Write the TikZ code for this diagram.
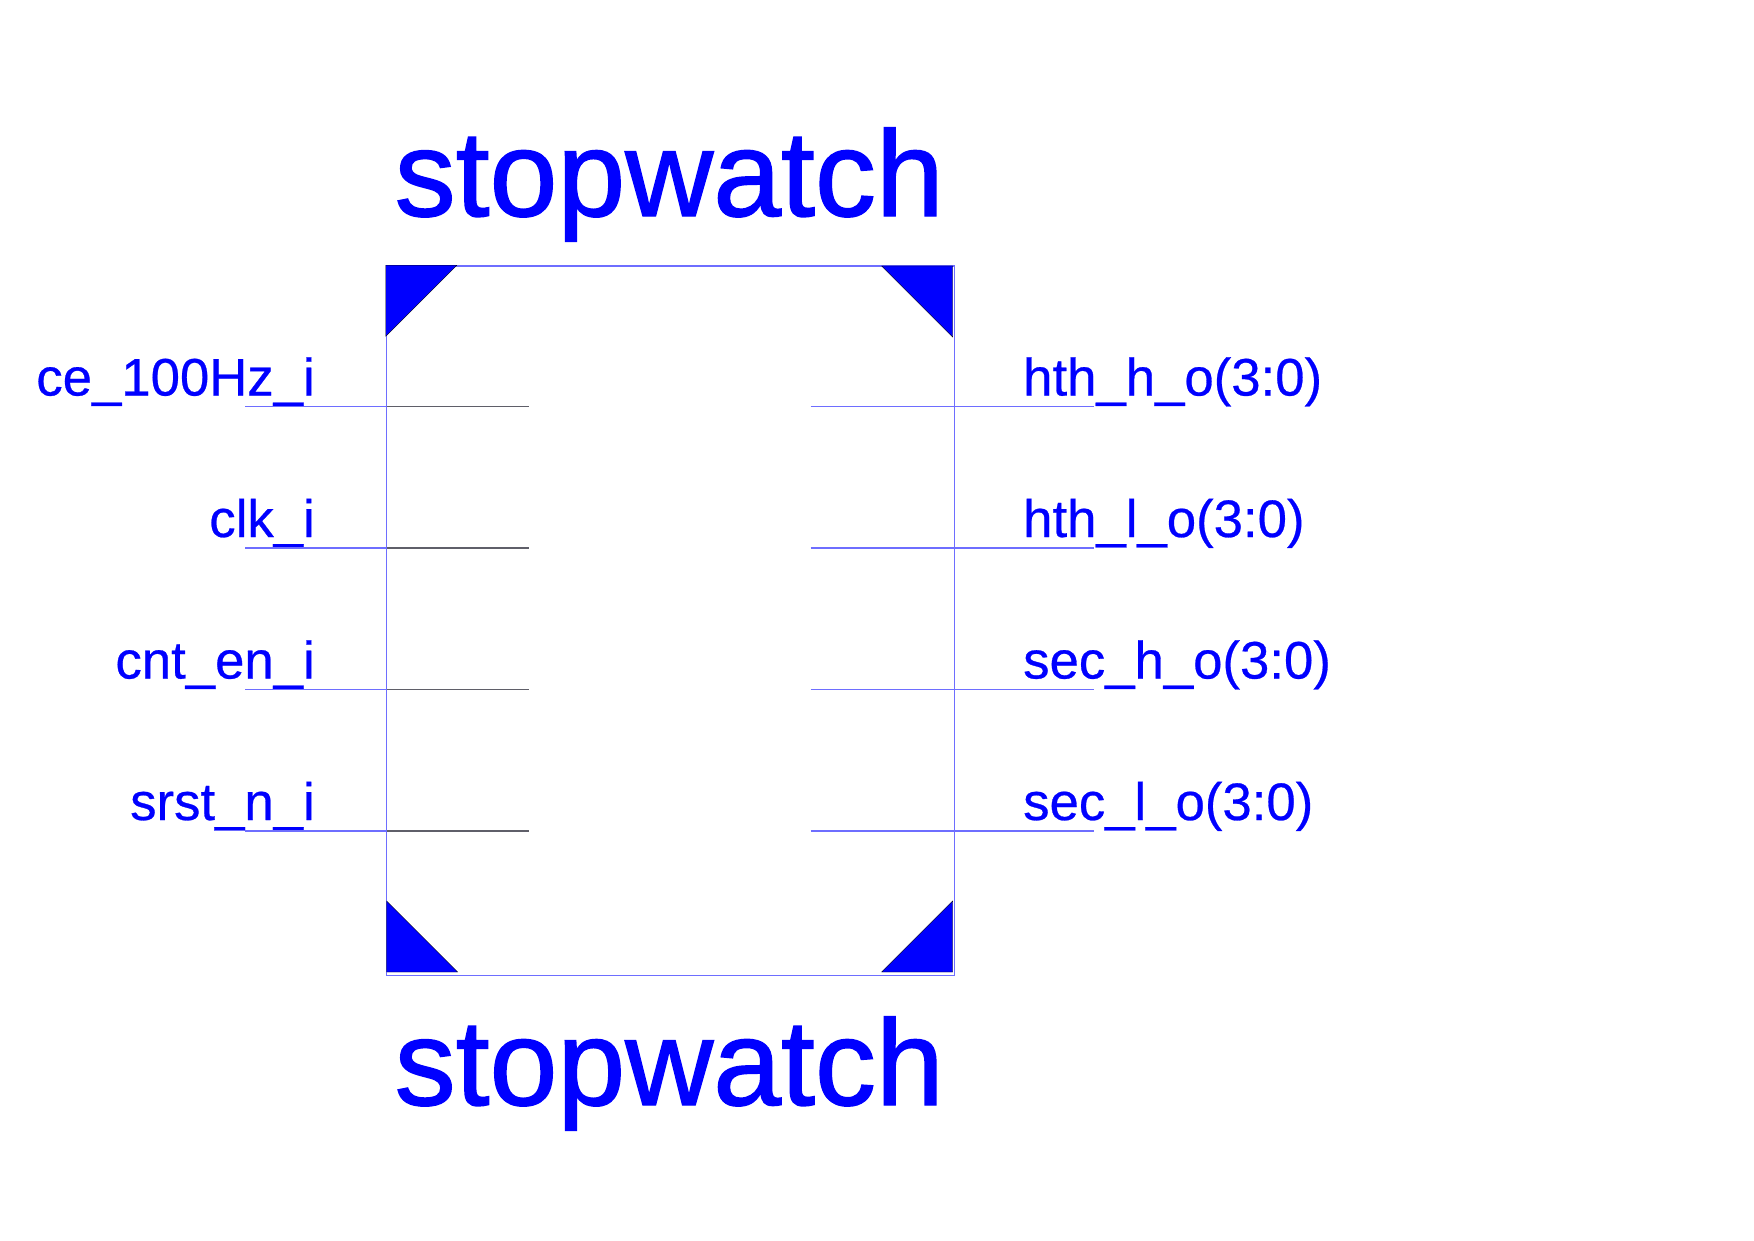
\documentclass[tikz,border=0pt]{standalone}
\usepackage{fontspec}
\setmainfont{Liberation Sans}
\newfontfamily\blockfont[FakeBold=0.5]{Liberation Sans}
\newfontfamily\titlefont[FakeBold=1.2]{Liberation Sans}
\usetikzlibrary{positioning}
\definecolor{portblue}{RGB}{0,0,255}
\definecolor{wireblue}{RGB}{110,110,255}
\definecolor{wiregrey}{RGB}{95,95,105}
\tikzset{
  block/.style={draw=wireblue,line width=0.4pt,minimum width=5.68cm,minimum height=7.095cm,inner sep=0pt},
  title/.style={font=\titlefont\fontsize{34.7}{36}\selectfont,text=portblue,anchor=base west,inner sep=0pt},
  inport/.style={font=\blockfont\fontsize{15}{16}\selectfont,text=portblue,anchor=base east,inner sep=0pt},
  outport/.style={font=\blockfont\fontsize{15}{16}\selectfont,text=portblue,anchor=base west,inner sep=0pt},
  wire/.style={line width=0.4pt,draw=#1},
  wire/.default=wireblue,
  corner/.style={fill=portblue,draw=black,line width=0.1pt},
}
\begin{document}
\begin{tikzpicture}
    \useasboundingbox (0,0) rectangle (17.54,12.40);
    % block and its names
    \node[block] (stopwatch) at (6.705,6.193) {};
    \node[title] (nametop) at (3.94,10.24) {stopwatch};
    \node[title] (namebottom) at (3.94,1.35) {stopwatch};
    % corners
    \fill[corner] (stopwatch.north west) -- ++(0.71,0) -- ++(-0.71,-0.71) -- cycle;
    \fill[corner] (9.527,9.74) -- ++(-0.71,0) -- ++(0.71,-0.71) -- cycle;
    \fill[corner] (3.867,2.68) -- ++(0.71,0) -- ++(-0.71,0.71) -- cycle;
    \fill[corner] (9.527,2.68) -- ++(-0.71,0) -- ++(0.71,0.71) -- cycle;
    % input ports
    \foreach \y/\pname/\ptext in {8.335/cei/ce\_100Hz\_i,6.92/clki/clk\_i,5.505/cnten/cnt\_en\_i,4.09/srst/srst\_n\_i}{
      \coordinate (\pname a) at (2.45,\y);
      \coordinate (\pname b) at (3.865,\y);
      \coordinate (\pname c) at (5.29,\y);
      \node[inport] (\pname) at (3.155,\y+0.11) {\ptext};
      \draw[wire] (\pname a) -- (\pname b);
      \draw[wire=wiregrey] (\pname b) -- (\pname c);
    }
    % output ports
    \foreach \y/\pname/\ptext in {8.335/hthh/hth\_h\_o(3:0),6.92/hthl/hth\_l\_o(3:0),5.505/sech/sec\_h\_o(3:0),4.09/secl/sec\_l\_o(3:0)}{
      \coordinate (\pname a) at (8.107,\y);
      \coordinate (\pname b) at (10.94,\y);
      \node[outport] (\pname) at (10.225,\y+0.11) {\ptext};
      \draw[wire] (\pname a) -- (\pname b);
    }
\end{tikzpicture}
\end{document}
